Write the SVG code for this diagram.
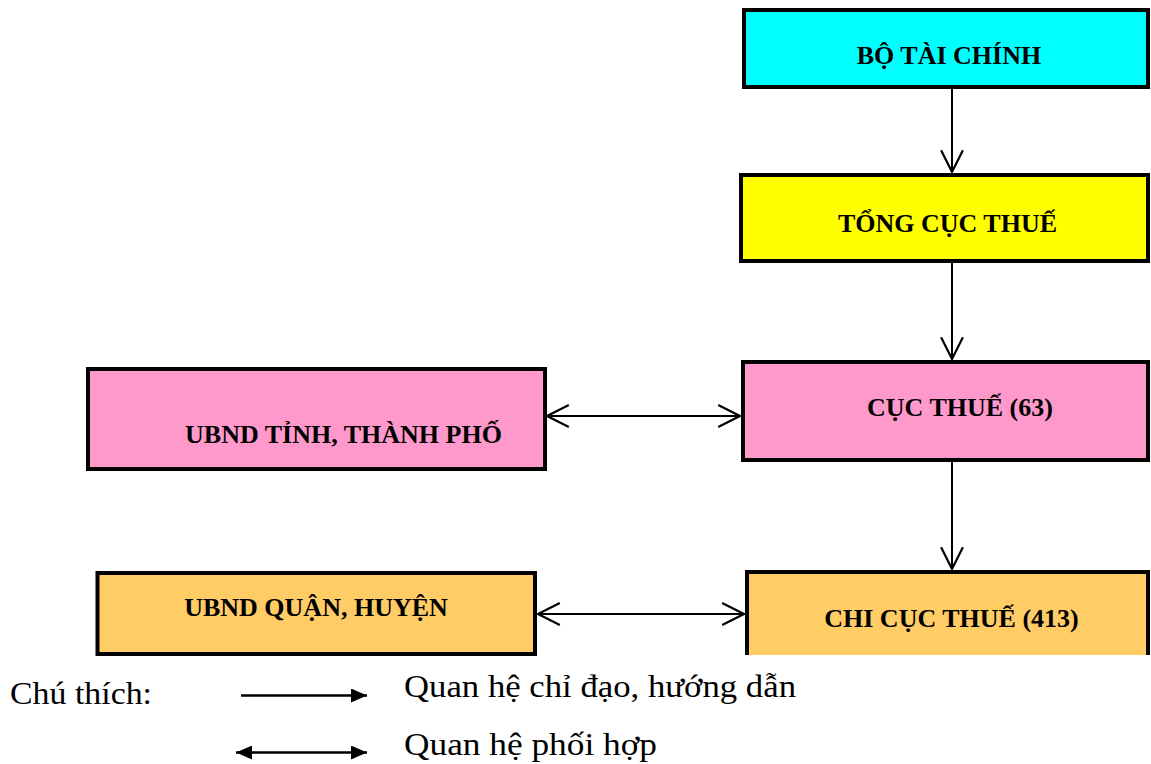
<svg xmlns="http://www.w3.org/2000/svg" width="1151" height="764" viewBox="0 0 1151 764">
<style>
.box{stroke:#000;stroke-width:4}
.lbl{font-family:"Liberation Serif","Times New Roman",serif;font-weight:bold;font-size:26px;fill:#000;text-anchor:middle}
.leg{font-family:"Liberation Serif","Times New Roman",serif;font-size:32px;fill:#000}
.con{stroke:#000;stroke-width:2;fill:none}
.lcon{stroke:#000;stroke-width:2.5;fill:none}
</style>
<defs>
<marker id="open" markerUnits="userSpaceOnUse" markerWidth="24" markerHeight="24" viewBox="-1 -1 22 22" refX="20" refY="10" orient="auto-start-reverse">
<path d="M0,0 L20,10 L0,20" fill="none" stroke="#000" stroke-width="2"/>
</marker>
<marker id="solid" markerUnits="userSpaceOnUse" markerWidth="16" markerHeight="14" viewBox="0 0 16 14" refX="16" refY="7" orient="auto-start-reverse">
<path d="M0,0 L16,7 L0,14 Z" fill="#000"/>
</marker>
</defs>
<rect width="1151" height="764" fill="#fff"/>
<g id="connectors">
<line class="con" x1="952" y1="88" x2="952" y2="172" marker-end="url(#open)"/>
<line class="con" x1="952" y1="263" x2="952" y2="359" marker-end="url(#open)"/>
<line class="con" x1="952" y1="462" x2="952" y2="569" marker-end="url(#open)"/>
<line class="con" x1="547" y1="416" x2="740" y2="416" marker-start="url(#open)" marker-end="url(#open)"/>
<line class="con" x1="538" y1="614" x2="744" y2="614" marker-start="url(#open)" marker-end="url(#open)"/>
</g>
<g id="bo-tai-chinh">
<rect class="box" x="744" y="10" width="404" height="77" fill="#00FFFF"/>
<text class="lbl" x="949" y="64">BỘ TÀI CHÍNH</text>
</g>
<g id="tong-cuc-thue">
<rect class="box" x="741" y="175" width="407" height="86" fill="#FFFF00"/>
<text class="lbl" x="947.5" y="232">TỔNG CỤC THUẾ</text>
</g>
<g id="cuc-thue">
<rect class="box" x="743" y="362" width="405" height="98" fill="#FF99CC"/>
<text class="lbl" x="960" y="416">CỤC THUẾ (63)</text>
</g>
<g id="chi-cuc-thue">
<rect x="745" y="570" width="405" height="85" fill="#FFCC66"/>
<path class="box" d="M747,655 V572 H1148 V655" fill="none"/>
<text class="lbl" x="951.5" y="627">CHI CỤC THUẾ (413)</text>
</g>
<g id="ubnd-tinh">
<rect class="box" x="88" y="369" width="457" height="100" fill="#FF99CC"/>
<text class="lbl" x="343.5" y="443">UBND TỈNH, THÀNH PHỐ</text>
</g>
<g id="ubnd-quan">
<rect class="box" x="97.5" y="573" width="437.5" height="81" fill="#FFCC66"/>
<text class="lbl" x="316" y="616">UBND QUẬN, HUYỆN</text>
</g>
<g id="legend">
<text class="leg" x="10" y="704" textLength="142" lengthAdjust="spacingAndGlyphs">Chú thích:</text>
<line class="lcon" x1="241" y1="695.5" x2="367" y2="695.5" marker-end="url(#solid)"/>
<text class="leg" x="404" y="697" textLength="392" lengthAdjust="spacingAndGlyphs">Quan hệ chỉ đạo, hướng dẫn</text>
<line class="lcon" x1="236" y1="752.5" x2="367" y2="752.5" marker-start="url(#solid)" marker-end="url(#solid)"/>
<text class="leg" x="404" y="755" textLength="253" lengthAdjust="spacingAndGlyphs">Quan hệ phối hợp</text>
</g>
</svg>
